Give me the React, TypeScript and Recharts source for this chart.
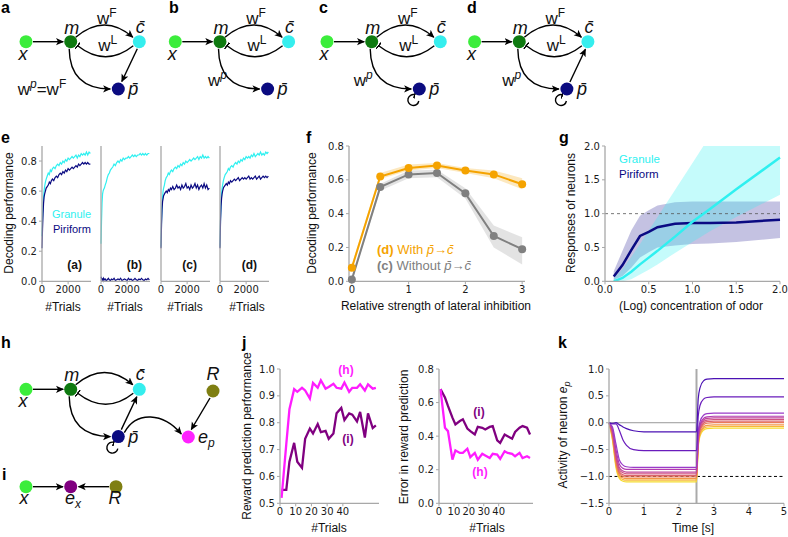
import React from 'react';
import {
  LineChart,
  Line,
  ComposedChart,
  Area,
  XAxis,
  YAxis,
  ReferenceLine,
} from 'recharts';

// ---- panel e: decoding performance vs. trials, four circuit variants ----
const eTrials = [0, 40, 80, 120, 160, 200, 260, 320, 400, 480, 560, 640, 720, 800, 900, 1000, 1100, 1200, 1300, 1400, 1500, 1600, 1700, 1800, 1900, 2000, 2100, 2200, 2300, 2400, 2500, 2600, 2700, 2800, 2900, 3000, 3100, 3200, 3300, 3400, 3500, 3600, 3700];
const eGranA = [0.30, 0.42, 0.50, 0.56, 0.60, 0.63, 0.66, 0.68, 0.70, 0.72, 0.71, 0.74, 0.73, 0.75, 0.76, 0.75, 0.77, 0.78, 0.77, 0.79, 0.78, 0.80, 0.79, 0.81, 0.80, 0.82, 0.81, 0.82, 0.83, 0.82, 0.83, 0.84, 0.82, 0.84, 0.83, 0.85, 0.84, 0.85, 0.84, 0.86, 0.84, 0.86, 0.85];
const ePirA = [0.22, 0.35, 0.45, 0.52, 0.56, 0.58, 0.60, 0.62, 0.63, 0.64, 0.66, 0.65, 0.67, 0.68, 0.67, 0.69, 0.70, 0.69, 0.71, 0.72, 0.71, 0.73, 0.72, 0.74, 0.73, 0.75, 0.74, 0.75, 0.76, 0.75, 0.76, 0.77, 0.76, 0.78, 0.77, 0.78, 0.79, 0.78, 0.79, 0.78, 0.79, 0.78, 0.78];
const eGranB = [0.25, 0.40, 0.52, 0.58, 0.60, 0.61, 0.62, 0.64, 0.66, 0.69, 0.71, 0.72, 0.74, 0.75, 0.76, 0.78, 0.77, 0.79, 0.80, 0.79, 0.81, 0.80, 0.82, 0.81, 0.82, 0.82, 0.83, 0.82, 0.83, 0.84, 0.83, 0.84, 0.83, 0.84, 0.84, 0.85, 0.84, 0.85, 0.84, 0.85, 0.84, 0.85, 0.85];
const ePirB = [0.03, 0.02, 0.01, 0.015, 0.005, 0.02, 0.01, 0.015, 0.005, 0.01, 0.02, 0.01, 0.005, 0.015, 0.01, 0.02, 0.005, 0.01, 0.015, 0.01, 0.02, 0.005, 0.01, 0.015, 0.01, 0.005, 0.02, 0.01, 0.015, 0.005, 0.01, 0.02, 0.01, 0.005, 0.015, 0.01, 0.02, 0.01, 0.005, 0.015, 0.01, 0.02, 0.01];
const eGranC = [0.23, 0.40, 0.50, 0.56, 0.60, 0.62, 0.64, 0.67, 0.69, 0.70, 0.72, 0.71, 0.73, 0.74, 0.73, 0.75, 0.76, 0.75, 0.77, 0.76, 0.78, 0.77, 0.79, 0.78, 0.80, 0.79, 0.80, 0.81, 0.80, 0.81, 0.82, 0.81, 0.82, 0.83, 0.81, 0.83, 0.82, 0.84, 0.82, 0.83, 0.82, 0.83, 0.82];
const ePirC = [0.22, 0.38, 0.48, 0.53, 0.55, 0.57, 0.58, 0.59, 0.60, 0.59, 0.61, 0.60, 0.62, 0.61, 0.63, 0.61, 0.62, 0.64, 0.62, 0.63, 0.61, 0.64, 0.62, 0.63, 0.65, 0.62, 0.63, 0.61, 0.64, 0.62, 0.63, 0.65, 0.62, 0.64, 0.61, 0.63, 0.64, 0.62, 0.65, 0.62, 0.64, 0.61, 0.62];
const eGranD = [0.23, 0.42, 0.52, 0.58, 0.62, 0.64, 0.67, 0.69, 0.71, 0.72, 0.73, 0.75, 0.74, 0.76, 0.77, 0.76, 0.78, 0.79, 0.78, 0.80, 0.79, 0.81, 0.80, 0.82, 0.81, 0.83, 0.82, 0.83, 0.82, 0.84, 0.83, 0.85, 0.83, 0.84, 0.85, 0.84, 0.86, 0.84, 0.85, 0.84, 0.86, 0.85, 0.86];
const ePirD = [0.22, 0.40, 0.50, 0.55, 0.58, 0.60, 0.62, 0.63, 0.64, 0.65, 0.64, 0.66, 0.65, 0.67, 0.66, 0.67, 0.68, 0.67, 0.68, 0.69, 0.67, 0.68, 0.69, 0.68, 0.69, 0.68, 0.69, 0.70, 0.68, 0.69, 0.68, 0.69, 0.70, 0.68, 0.69, 0.70, 0.68, 0.69, 0.70, 0.69, 0.70, 0.69, 0.70];
const eYTicks = [0, 0.2, 0.4, 0.6, 0.8];
const eXTicks = [0, 2000];

// ---- panel f: performance vs lateral inhibition ----
const fStrength = [0, 0.5, 1, 1.5, 2, 2.5, 3];
const fWith = [0.08, 0.62, 0.67, 0.685, 0.655, 0.632, 0.574];
const fWithLo = [0.06, 0.605, 0.655, 0.67, 0.64, 0.61, 0.545];
const fWithHi = [0.10, 0.64, 0.69, 0.70, 0.67, 0.655, 0.61];
const fWithout = [0.01, 0.557, 0.632, 0.64, 0.52, 0.268, 0.19];
const fWithoutLo = [0.0, 0.535, 0.61, 0.615, 0.49, 0.2, 0.10];
const fWithoutHi = [0.03, 0.575, 0.655, 0.66, 0.55, 0.33, 0.26];

// ---- panel g: responses vs odor concentration ----
const gConc = [0.1, 0.2, 0.3, 0.4, 0.5, 0.6, 0.8, 1.0, 1.2, 1.5, 2.0];
const gPir = [0.07, 0.24, 0.46, 0.67, 0.73, 0.80, 0.85, 0.86, 0.86, 0.87, 0.91];
const gPirLo = [0.02, 0.08, 0.20, 0.35, 0.43, 0.50, 0.53, 0.55, 0.56, 0.58, 0.64];
const gPirHi = [0.15, 0.45, 0.75, 0.97, 1.05, 1.12, 1.17, 1.18, 1.18, 1.18, 1.18];
const gGran = [0.0, 0.05, 0.14, 0.25, 0.35, 0.45, 0.66, 0.88, 1.07, 1.36, 1.83];
const gGranLo = [0.0, 0.0, 0.03, 0.10, 0.17, 0.25, 0.42, 0.58, 0.74, 0.95, 1.28];
const gGranHi = [0.04, 0.18, 0.36, 0.55, 0.75, 0.95, 1.35, 1.75, 2.15, 2.6, 2.6];

// ---- panel j: reward prediction ----
const jTrials = [1, 4, 6, 9, 11, 14, 16, 19, 21, 24, 26, 29, 31, 34, 36, 39, 41, 44, 46, 49, 51, 54, 56, 59, 61];
const jPerfH = [0.52, 0.72, 0.85, 0.925, 0.915, 0.93, 0.92, 0.89, 0.948, 0.93, 0.958, 0.927, 0.933, 0.945, 0.93, 0.927, 0.95, 0.915, 0.93, 0.93, 0.943, 0.92, 0.943, 0.927, 0.93];
const jPerfI = [0.55, 0.55, 0.655, 0.725, 0.655, 0.632, 0.74, 0.778, 0.76, 0.795, 0.765, 0.77, 0.74, 0.76, 0.835, 0.855, 0.81, 0.835, 0.83, 0.805, 0.84, 0.745, 0.835, 0.78, 0.79];
const jErrH = [0.68, 0.45, 0.43, 0.26, 0.315, 0.30, 0.30, 0.325, 0.275, 0.30, 0.26, 0.295, 0.285, 0.27, 0.295, 0.29, 0.265, 0.31, 0.30, 0.295, 0.28, 0.30, 0.27, 0.28, 0.27];
const jErrI = [0.68, 0.63, 0.58, 0.51, 0.47, 0.49, 0.50, 0.445, 0.43, 0.41, 0.455, 0.45, 0.44, 0.455, 0.46, 0.375, 0.36, 0.41, 0.40, 0.385, 0.425, 0.45, 0.46, 0.45, 0.41];
const jXTicks = [0, 10, 20, 30, 40];

// ---- panel k: activity of e_p over time, one line per condition ----
const kTime = [0, 0.1, 0.2, 0.3, 0.4, 0.5, 0.7, 1.0, 2.5, 2.55, 2.6, 2.7, 2.8, 3.0, 5.0];
const kLines = [
  [0, -0.01, 0.0, -0.04, -0.08, -0.11, -0.15, -0.17, -0.17, 0.45, 0.65, 0.78, 0.81, 0.82, 0.82],
  [0, -0.02, -0.02, -0.15, -0.32, -0.42, -0.50, -0.52, -0.52, 0.12, 0.32, 0.44, 0.47, 0.48, 0.48],
  [0, -0.08, -0.40, -0.70, -0.79, -0.82, -0.83, -0.83, -0.83, -0.18, 0.02, 0.14, 0.17, 0.18, 0.18],
  [0, -0.12, -0.50, -0.78, -0.85, -0.87, -0.87, -0.87, -0.87, -0.22, -0.03, 0.08, 0.11, 0.12, 0.12],
  [0, -0.15, -0.58, -0.84, -0.90, -0.92, -0.92, -0.92, -0.92, -0.26, -0.06, 0.05, 0.08, 0.09, 0.09],
  [0, -0.18, -0.63, -0.88, -0.93, -0.95, -0.95, -0.95, -0.95, -0.29, -0.09, 0.02, 0.05, 0.06, 0.06],
  [0, -0.21, -0.68, -0.92, -0.97, -0.98, -0.98, -0.98, -0.98, -0.32, -0.12, -0.01, 0.02, 0.03, 0.03],
  [0, -0.24, -0.72, -0.95, -1.00, -1.01, -1.01, -1.01, -1.01, -0.35, -0.15, -0.04, -0.01, 0.0, 0.0],
  [0, -0.27, -0.76, -0.98, -1.03, -1.04, -1.04, -1.04, -1.04, -0.39, -0.19, -0.08, -0.05, -0.04, -0.04],
  [0, -0.30, -0.80, -1.01, -1.06, -1.07, -1.07, -1.07, -1.07, -0.42, -0.22, -0.11, -0.08, -0.07, -0.07],
  [0, -0.33, -0.84, -1.04, -1.09, -1.10, -1.10, -1.10, -1.10, -0.45, -0.25, -0.14, -0.11, -0.10, -0.10],
];
const kColors = ['#4b12b4', '#6a1cbc', '#9a3bc8', '#b13bb0', '#c14598', '#cf5282', '#dc646c', '#e97a58', '#f39646', '#f8b838', '#f5dc30'];

// ---- colours / fonts ----
const CYAN = '#2ff0f0';
const NAVY = '#0a0a82';
const ORANGE = '#f5a300';
const GREY = '#808080';
const MAGENTA = '#ff1cff';
const PURPLE = '#800080';
const AXIS_GRAY = '#a8a8a8';
const TICK_FONT = '"DejaVu Sans", sans-serif';
const LABEL_FONT = '"Liberation Sans", Arial, sans-serif';

const PAD_T = 6;
const PAD_R = 8;
const XH = 20;

// place a chart so its plot area lands on (px, py, pw, ph)
function frame(px: number, py: number, pw: number, ph: number, yw: number, ml = 0) {
  return {
    style: { position: 'absolute' as const, left: px - yw - ml, top: py - PAD_T },
    width: ml + yw + pw + PAD_R,
    height: PAD_T + ph + XH,
    margin: { top: PAD_T, right: PAD_R, left: ml, bottom: 0 },
  };
}

const tickStyle = { fill: '#1a1a1a', fontSize: 10, fontFamily: TICK_FONT };
const axisLine = { stroke: AXIS_GRAY, strokeWidth: 1.3 };
const tickLine = { stroke: AXIS_GRAY };
const fmt1 = (v: number) => v.toFixed(1).replace('-', '\u2212');

const eSubplots = [
  { id: 'a', left: 42, granule: eGranA, piriform: ePirA },
  { id: 'b', left: 101, granule: eGranB, piriform: ePirB },
  { id: 'c', left: 161, granule: eGranC, piriform: ePirC },
  { id: 'd', left: 220, granule: eGranD, piriform: ePirD },
];

function PanelE() {
  return (
    <>
      {eSubplots.map((s, i) => {
        const yw = i === 0 ? 36 : 1;
        const f = frame(s.left, 145.7, 49, 135.3, yw, i === 0 ? 0 : 8);
        const data = eTrials.map((t, k) => ({ t, granule: s.granule[k], piriform: s.piriform[k] }));
        return (
          <div key={s.id} style={f.style}>
            <LineChart width={f.width} height={f.height} margin={f.margin} data={data}>
              <XAxis dataKey="t" type="number" domain={[0, 3750]} ticks={eXTicks} interval={0} height={XH}
                axisLine={axisLine} tickLine={tickLine} tickSize={3} tick={tickStyle} />
              <YAxis type="number" domain={[0, 0.9]} ticks={eYTicks} interval={0} width={yw}
                axisLine={axisLine} tickLine={i === 0 ? tickLine : false} tick={i === 0 ? tickStyle : false}
                tickSize={3} tickFormatter={fmt1} />
              <Line type="linear" dataKey="granule" stroke={CYAN} strokeWidth={1.2} dot={false} isAnimationActive={false} />
              <Line type="linear" dataKey="piriform" stroke={NAVY} strokeWidth={1.2} dot={false} isAnimationActive={false} />
            </LineChart>
          </div>
        );
      })}
    </>
  );
}

function PanelF() {
  const f = frame(349, 145.7, 176, 135.3, 40);
  const data = fStrength.map((x, k) => ({
    x,
    withFb: fWith[k],
    withBand: [fWithLo[k], fWithHi[k]],
    without: fWithout[k],
    withoutBand: [fWithoutLo[k], fWithoutHi[k]],
  }));
  return (
    <div style={f.style}>
      <ComposedChart width={f.width} height={f.height} margin={f.margin} data={data}>
        <XAxis dataKey="x" type="number" domain={[-0.05, 3.05]} ticks={[0, 1, 2, 3]} interval={0} height={XH}
          axisLine={axisLine} tickLine={tickLine} tickSize={3} tick={tickStyle} />
        <YAxis type="number" domain={[0, 0.8]} ticks={[0, 0.2, 0.4, 0.6, 0.8]} interval={0} width={40}
          axisLine={axisLine} tickLine={tickLine} tickSize={3} tick={tickStyle} tickFormatter={fmt1} />
        <Area type="linear" dataKey="withoutBand" stroke="none" fill={GREY} fillOpacity={0.22} dot={false} activeDot={false} isAnimationActive={false} />
        <Area type="linear" dataKey="withBand" stroke="none" fill={ORANGE} fillOpacity={0.25} dot={false} activeDot={false} isAnimationActive={false} />
        <Line type="linear" dataKey="without" stroke={GREY} strokeWidth={2} dot={{ r: 4, fill: GREY, stroke: GREY, strokeWidth: 0 }} isAnimationActive={false} />
        <Line type="linear" dataKey="withFb" stroke={ORANGE} strokeWidth={2} dot={{ r: 4, fill: ORANGE, stroke: ORANGE, strokeWidth: 0 }} isAnimationActive={false} />
      </ComposedChart>
    </div>
  );
}

function PanelG() {
  const f = frame(605, 145.7, 175, 135.3, 40);
  const data = gConc.map((x, k) => ({
    x,
    pir: gPir[k],
    pirBand: [gPirLo[k], gPirHi[k]],
    gran: gGran[k],
    granBand: [gGranLo[k], gGranHi[k]],
  }));
  return (
    <div style={f.style}>
      <ComposedChart width={f.width} height={f.height} margin={f.margin} data={data}>
        <XAxis dataKey="x" type="number" domain={[0, 2]} ticks={[0, 0.5, 1, 1.5, 2]} interval={0} height={XH}
          axisLine={axisLine} tickLine={tickLine} tickSize={3} tick={tickStyle} tickFormatter={fmt1} />
        <YAxis type="number" domain={[0, 2]} allowDataOverflow ticks={[0, 0.5, 1, 1.5, 2]} interval={0} width={40}
          axisLine={axisLine} tickLine={tickLine} tickSize={3} tick={tickStyle} tickFormatter={fmt1} />
        <Area type="linear" dataKey="pirBand" stroke="none" fill="#3a36a0" fillOpacity={0.3} dot={false} activeDot={false} isAnimationActive={false} />
        <Area type="linear" dataKey="granBand" stroke="none" fill={CYAN} fillOpacity={0.28} dot={false} activeDot={false} isAnimationActive={false} />
        <ReferenceLine y={1} stroke="#555" strokeDasharray="3 3" strokeWidth={0.8} />
        <Line type="linear" dataKey="pir" stroke={NAVY} strokeWidth={2.5} dot={false} isAnimationActive={false} />
        <Line type="linear" dataKey="gran" stroke={CYAN} strokeWidth={2.5} dot={false} isAnimationActive={false} />
      </ComposedChart>
    </div>
  );
}

function PanelJ() {
  const left = frame(280, 368.7, 99, 134.3, 30);
  const right = frame(439, 368.7, 94, 134.3, 30);
  const data = jTrials.map((t, k) => ({ t, perfH: jPerfH[k], perfI: jPerfI[k], errH: jErrH[k], errI: jErrI[k] }));
  return (
    <>
      <div style={left.style}>
        <LineChart width={left.width} height={left.height} margin={left.margin} data={data}>
          <XAxis dataKey="t" type="number" domain={[0, 63]} ticks={jXTicks} interval={0} height={XH}
            axisLine={axisLine} tickLine={tickLine} tickSize={3} tick={tickStyle} />
          <YAxis type="number" domain={[0.5, 1]} ticks={[0.5, 0.6, 0.7, 0.8, 0.9, 1.0]} interval={0} width={30}
            axisLine={axisLine} tickLine={tickLine} tickSize={3} tick={tickStyle} tickFormatter={fmt1} />
          <Line type="linear" dataKey="perfI" stroke={PURPLE} strokeWidth={2.3} dot={false} isAnimationActive={false} />
          <Line type="linear" dataKey="perfH" stroke={MAGENTA} strokeWidth={2.3} dot={false} isAnimationActive={false} />
        </LineChart>
      </div>
      <div style={right.style}>
        <LineChart width={right.width} height={right.height} margin={right.margin} data={data}>
          <XAxis dataKey="t" type="number" domain={[0, 63]} ticks={jXTicks} interval={0} height={XH}
            axisLine={axisLine} tickLine={tickLine} tickSize={3} tick={tickStyle} />
          <YAxis type="number" domain={[0, 0.8]} ticks={[0, 0.2, 0.4, 0.6, 0.8]} interval={0} width={30}
            axisLine={axisLine} tickLine={tickLine} tickSize={3} tick={tickStyle} tickFormatter={fmt1} />
          <Line type="linear" dataKey="errI" stroke={PURPLE} strokeWidth={2.3} dot={false} isAnimationActive={false} />
          <Line type="linear" dataKey="errH" stroke={MAGENTA} strokeWidth={2.3} dot={false} isAnimationActive={false} />
        </LineChart>
      </div>
    </>
  );
}

function PanelK() {
  const f = frame(609, 368.7, 175, 134.3, 45);
  const data = kTime.map((t, k) => {
    const row: Record<string, number> = { t };
    kLines.forEach((vals, i) => { row['l' + i] = vals[k]; });
    return row;
  });
  return (
    <div style={f.style}>
      <LineChart width={f.width} height={f.height} margin={f.margin} data={data}>
        <XAxis dataKey="t" type="number" domain={[0, 5]} ticks={[0, 1, 2, 3, 4, 5]} interval={0} height={XH}
          axisLine={axisLine} tickLine={tickLine} tickSize={3} tick={tickStyle} />
        <YAxis type="number" domain={[-1.5, 1]} ticks={[-1.5, -1, -0.5, 0, 0.5, 1]} interval={0} width={45}
          axisLine={axisLine} tickLine={tickLine} tickSize={3} tick={tickStyle} tickFormatter={fmt1} />
        <ReferenceLine segment={[{ x: 0, y: 0 }, { x: 2.5, y: 0 }]} stroke="#999" strokeWidth={1} />
        <ReferenceLine y={-1} stroke="#000" strokeDasharray="3 2.5" strokeWidth={1} />
        <ReferenceLine x={2.5} stroke="#aaa" strokeWidth={2} />
        {kLines.map((_, i) => (
          <Line key={i} type="monotone" dataKey={'l' + (kLines.length - 1 - i)} stroke={kColors[kLines.length - 1 - i]}
            strokeWidth={1.2} dot={false} isAnimationActive={false} />
        ))}
      </LineChart>
    </div>
  );
}

// ---- circuit diagrams ----
type Pt = [number, number];
const NODE_R = 6.5;
const C_X = '#3ced3c';
const C_M = '#0e7a10';
const C_C = '#35eeee';
const C_P = '#0b0b80';
const C_R = '#7f7f12';
const C_EP = '#ff22ff';
const C_EX = '#800080';

const italic = { fontFamily: LABEL_FONT, fontStyle: 'italic' as const, fontSize: 18, fill: '#111' };
const wStyle = { fontFamily: LABEL_FONT, fontSize: 17, fill: '#111' };

function Node({ p, fill }: { p: Pt; fill: string }) {
  return <circle cx={p[0]} cy={p[1]} r={NODE_R} fill={fill} />;
}

function W({ x, y, sup, anchor = 'middle' }: { x: number; y: number; sup: string; anchor?: string }) {
  return (
    <text x={x} y={y} textAnchor={anchor} {...wStyle}>
      w<tspan dy={-7} fontSize={12}>{sup}</tspan>
    </text>
  );
}

function Loop({ p }: { p: Pt }) {
  const cx = p[0] - 6;
  const cy = p[1] + 11;
  return (
    <path d={`M ${cx + 5.5} ${cy + 1} A 5.5 5.5 0 1 1 ${cx + 1.5} ${cy - 5.3}`} fill="none" stroke="#000" strokeWidth={1.4} markerEnd="url(#bar)" />
  );
}

function Motif({ mx, my, cp = false, pc = false, loop = false, wLabel }: {
  mx: number; my: number; cp?: boolean; pc?: boolean; loop?: boolean; wLabel?: 'eq' | number | null;
}) {
  const X: Pt = [mx - 44.7, my];
  const M: Pt = [mx, my];
  const C: Pt = [mx + 68.6, my];
  const P: Pt = [mx + 47.6, my + 47.3];
  const st = { fill: 'none', stroke: '#000', strokeWidth: 1.4 };
  return (
    <g>
      <line x1={X[0] + 7} y1={my} x2={M[0] - 7.5} y2={my} {...st} markerEnd="url(#arrow)" />
      <path d={`M ${mx + 5} ${my - 4.5} Q ${mx + 34} ${my - 29} ${C[0] - 6.5} ${my - 4.5}`} {...st} markerEnd="url(#arrow)" />
      <path d={`M ${C[0] - 6} ${my + 4} Q ${mx + 35} ${my + 26} ${mx + 7} ${my + 4}`} {...st} markerEnd="url(#bar)" />
      <path d={`M ${mx - 1.5} ${my + 7} Q ${mx - 1} ${my + 47} ${P[0] - 8} ${P[1]}`} {...st} markerEnd="url(#arrow)" />
      {cp && <line x1={C[0] - 2} y1={my + 7} x2={P[0] + 3.5} y2={P[1] - 7.5} {...st} markerEnd="url(#arrow)" />}
      {pc && <line x1={P[0] + 3} y1={P[1] - 7} x2={C[0] - 2.5} y2={my + 7.5} {...st} markerEnd="url(#arrow)" />}
      {loop && <Loop p={P} />}
      <Node p={X} fill={C_X} />
      <Node p={M} fill={C_M} />
      <Node p={C} fill={C_C} />
      <Node p={P} fill={C_P} />
      <text x={X[0] - 3} y={my + 18} textAnchor="middle" {...italic}>x</text>
      <text x={mx + 1} y={my - 8} textAnchor="middle" {...italic}>m</text>
      <text x={C[0] + 1} y={my - 9} textAnchor="middle" {...italic}>{'c\u0304'}</text>
      <text x={P[0] + 10} y={P[1] + 6} {...italic}>{'p\u0304'}</text>
      {wLabel !== null && wLabel !== undefined && (
        <>
          <W x={mx + 36} y={my - 18} sup="F" />
          <W x={mx + 37} y={my + 9} sup="L" />
          {wLabel === 'eq' ? (
            <text x={mx - 53} y={P[1] + 6} {...wStyle}>
              w<tspan dy={-7} fontSize={12} fontStyle="italic">p</tspan><tspan dy={7}>=w</tspan><tspan dy={-7} fontSize={12}>F</tspan>
            </text>
          ) : (
            <text x={mx + wLabel} y={my + 44} {...wStyle}>
              w<tspan dy={-7} fontSize={12} fontStyle="italic">p</tspan>
            </text>
          )}
        </>
      )}
    </g>
  );
}

const letter = { fontFamily: LABEL_FONT, fontWeight: 700, fontSize: 16, fill: '#000' };
const title = { fontFamily: LABEL_FONT, fontSize: 12, fill: '#111' };

function YTitle({ x, y, children }: { x: number; y: number; children: React.ReactNode }) {
  return (
    <text x={x} y={y} transform={`rotate(-90 ${x} ${y})`} textAnchor="middle" {...title}>{children}</text>
  );
}

function Overlay() {
  const st = { fill: 'none', stroke: '#000', strokeWidth: 1.4 };
  const P: Pt = [118.3, 436.6];
  const R: Pt = [213, 391];
  const EP: Pt = [188.3, 437];
  return (
    <svg width={788} height={537} style={{ position: 'absolute', left: 0, top: 0, pointerEvents: 'none' }}>
      <defs>
        <marker id="arrow" viewBox="0 0 10 10" refX="9" refY="5" markerWidth="8" markerHeight="8" markerUnits="userSpaceOnUse" orient="auto">
          <path d="M0,0.5 L10,5 L0,9.5 L2.5,5 z" fill="#000" />
        </marker>
        <marker id="bar" viewBox="0 0 2 10" refX="1" refY="5" markerWidth="1.6" markerHeight="8" markerUnits="userSpaceOnUse" orient="auto">
          <rect width="2" height="10" fill="#000" />
        </marker>
      </defs>

      {/* panel letters */}
      <text x={1} y={13} {...letter}>a</text>
      <text x={169} y={13} {...letter}>b</text>
      <text x={319} y={13} {...letter}>c</text>
      <text x={467} y={13} {...letter}>d</text>
      <text x={1} y={143} {...letter}>e</text>
      <text x={306} y={143} {...letter}>f</text>
      <text x={559} y={143} {...letter}>g</text>
      <text x={1} y={348} {...letter}>h</text>
      <text x={2} y={480} {...letter}>i</text>
      <text x={242} y={348} {...letter}>j</text>
      <text x={558} y={348} {...letter}>k</text>

      {/* a-d motifs */}
      <Motif mx={70.7} my={41.7} cp wLabel="eq" />
      <Motif mx={220} my={41.7} wLabel={-12} />
      <Motif mx={371.7} my={41.7} loop wLabel={-18} />
      <Motif mx={519.3} my={41.7} pc loop wLabel={-17} />

      {/* h */}
      <Motif mx={70.7} my={389.3} pc loop wLabel={null} />
      <path d={`M ${P[0] + 6} ${P[1] - 4} C ${P[0] + 18} ${P[1] - 26} ${P[0] + 45} ${P[1] - 24} ${EP[0] - 7} ${EP[1] - 3}`} {...st} markerEnd="url(#arrow)" />
      <line x1={R[0] - 3} y1={R[1] + 7} x2={EP[0] + 3} y2={EP[1] - 7.5} {...st} markerEnd="url(#arrow)" />
      <Node p={R} fill={C_R} />
      <Node p={EP} fill={C_EP} />
      <text x={R[0]} y={380} textAnchor="middle" {...italic}>R</text>
      <text x={198} y={443} {...italic}>e<tspan dy={4} fontSize={12}>p</tspan></text>

      {/* i */}
      <line x1={33} y1={486.7} x2={63} y2={486.7} {...st} markerEnd="url(#arrow)" />
      <line x1={109} y1={486.7} x2={78.5} y2={486.7} {...st} markerEnd="url(#arrow)" />
      <Node p={[26, 486.7]} fill={C_X} />
      <Node p={[70.7, 486.7]} fill={C_EX} />
      <Node p={[116, 486.7]} fill={C_R} />
      <text x={24} y={504} textAnchor="middle" {...italic}>x</text>
      <text x={65} y={504} {...italic}>e<tspan dy={4} fontSize={12}>x</tspan></text>
      <text x={115} y={504} textAnchor="middle" {...italic}>R</text>

      {/* e titles and legends */}
      <YTitle x={13} y={213}>Decoding performance</YTitle>
      {[63, 125, 185, 247].map((x) => (
        <text key={x} x={x} y={311} textAnchor="middle" {...title}>#Trials</text>
      ))}
      <text x={52} y={218} fontFamily={LABEL_FONT} fontSize={11} fill={CYAN}>Granule</text>
      <text x={53} y={233} fontFamily={LABEL_FONT} fontSize={11} fill={NAVY}>Piriform</text>
      {[['(a)', 82], ['(b)', 142], ['(c)', 197], ['(d)', 257]].map(([t, x]) => (
        <text key={t as string} x={x as number} y={269} textAnchor="end" fontFamily={LABEL_FONT} fontSize={12} fontWeight={700} fill="#111">{t}</text>
      ))}

      {/* f titles and legend */}
      <YTitle x={316} y={213}>Decoding performance</YTitle>
      <text x={436} y={310} textAnchor="middle" {...title}>Relative strength of lateral inhibition</text>
      <text x={377} y={254} fontFamily={LABEL_FONT} fontSize={13} fill={ORANGE}>
        <tspan fontWeight={700}>(d)</tspan> With <tspan fontStyle="italic">{'p\u0304'}</tspan>{'\u2192'}<tspan fontStyle="italic">{'c\u0304'}</tspan>
      </text>
      <text x={377} y={270} fontFamily={LABEL_FONT} fontSize={13} fill={GREY}>
        <tspan fontWeight={700}>(c)</tspan> Without <tspan fontStyle="italic">{'p\u0304'}</tspan>{'\u2192'}<tspan fontStyle="italic">{'c\u0304'}</tspan>
      </text>

      {/* g titles and legend */}
      <YTitle x={575} y={213}>Responses of neurons</YTitle>
      <text x={691} y={310} textAnchor="middle" {...title}>(Log) concentration of odor</text>
      <text x={619} y={163} fontFamily={LABEL_FONT} fontSize={11.5} fill={CYAN}>Granule</text>
      <text x={619} y={178} fontFamily={LABEL_FONT} fontSize={11.5} fill={NAVY}>Piriform</text>

      {/* j titles and labels */}
      <YTitle x={251} y={436}>Reward prediction performance</YTitle>
      <text x={329} y={532} textAnchor="middle" {...title}>#Trials</text>
      <text x={346} y={374} textAnchor="middle" fontFamily={LABEL_FONT} fontSize={12} fontWeight={700} fill={MAGENTA}>(h)</text>
      <text x={348} y={443} textAnchor="middle" fontFamily={LABEL_FONT} fontSize={12} fontWeight={700} fill={PURPLE}>(i)</text>
      <YTitle x={408} y={437}>Error in reward prediction</YTitle>
      <text x={487} y={532} textAnchor="middle" {...title}>#Trials</text>
      <text x={479} y={416} textAnchor="middle" fontFamily={LABEL_FONT} fontSize={12} fontWeight={700} fill={PURPLE}>(i)</text>
      <text x={480} y={476} textAnchor="middle" fontFamily={LABEL_FONT} fontSize={12} fontWeight={700} fill={MAGENTA}>(h)</text>

      {/* k titles */}
      <text x={567} y={435} transform="rotate(-90 567 435)" textAnchor="middle" {...title}>
        Activity of neuron <tspan fontStyle="italic">e</tspan><tspan fontStyle="italic" fontSize={9} dy={3}>p</tspan>
      </text>
      <text x={693} y={532} textAnchor="middle" {...title}>Time [s]</text>
    </svg>
  );
}

export default function App() {
  return (
    <div style={{ position: 'absolute', left: 0, top: 0, width: 788, height: 537, background: '#fff', overflow: 'hidden' }}>
      <PanelE />
      <PanelF />
      <PanelG />
      <PanelJ />
      <PanelK />
      <Overlay />
    </div>
  );
}
